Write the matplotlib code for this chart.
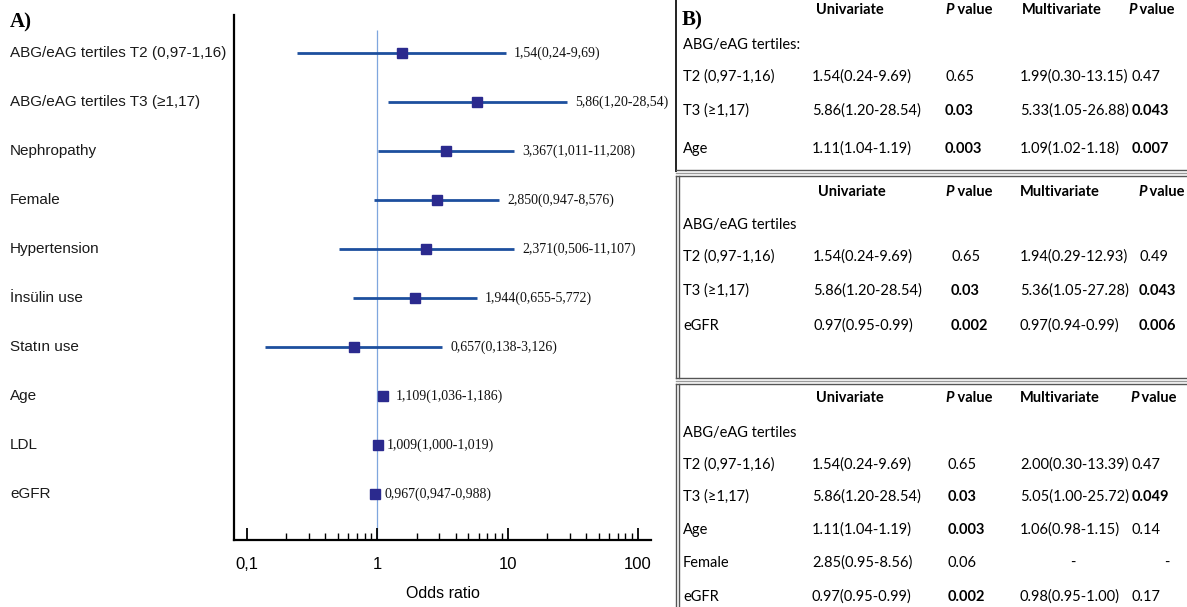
import numpy as np
import matplotlib
matplotlib.use("Agg")
import matplotlib.pyplot as plt
from matplotlib.transforms import blended_transform_factory
from matplotlib.lines import Line2D
from matplotlib.ticker import FixedLocator, NullFormatter

W, H = 1187, 607

# ---- panel A data ----
labels = ["ABG/eAG tertiles T2 (0,97-1,16)", "ABG/eAG tertiles T3 (\u22651,17)", "Nephropathy",
          "Female", "Hypertension", "\u0130ns\u00fclin use", "Stat\u0131n use", "Age", "LDL", "eGFR"]
odds = [1.54, 5.86, 3.367, 2.850, 2.371, 1.944, 0.657, 1.109, 1.009, 0.967]
lo = [0.24, 1.20, 1.011, 0.947, 0.506, 0.655, 0.138, 1.036, 1.000, 0.947]
hi = [9.69, 28.54, 11.208, 8.576, 11.107, 5.772, 3.126, 1.186, 1.019, 0.988]
ann = ["1,54(0,24-9,69)", "5,86(1,20-28,54)", "3,367(1,011-11,208)", "2,850(0,947-8,576)",
       "2,371(0,506-11,107)", "1,944(0,655-5,772)", "0,657(0,138-3,126)", "1,109(1,036-1,186)",
       "1,009(1,000-1,019)", "0,967(0,947-0,988)"]
xticks = [0.1, 1, 10, 100]
xticklabels = ["0,1", "1", "10", "100"]

# ---- panel B tables ----
hdr = ["Univariate", "Multivariate"]
t1_rows = ["T2 (0,97-1,16)", "T3 (\u22651,17)", "Age"]
t1_uni = ["1.54(0.24-9.69)", "5.86(1.20-28.54)", "1.11(1.04-1.19)"]
t1_up = ["0.65", "0.03", "0.003"]
t1_multi = ["1.99(0.30-13.15)", "5.33(1.05-26.88)", "1.09(1.02-1.18)"]
t1_mp = ["0.47", "0.043", "0.007"]

t2_rows = ["T2 (0,97-1,16)", "T3 (\u22651,17)", "eGFR"]
t2_uni = ["1.54(0.24-9.69)", "5.86(1.20-28.54)", "0.97(0.95-0.99)"]
t2_up = ["0.65", "0.03", "0.002"]
t2_multi = ["1.94(0.29-12.93)", "5.36(1.05-27.28)", "0.97(0.94-0.99)"]
t2_mp = ["0.49", "0.043", "0.006"]

t3_rows = ["T2 (0,97-1,16)", "T3 (\u22651,17)", "Age", "Female", "eGFR"]
t3_uni = ["1.54(0.24-9.69)", "5.86(1.20-28.54)", "1.11(1.04-1.19)", "2.85(0.95-8.56)", "0.97(0.95-0.99)"]
t3_up = ["0.65", "0.03", "0.003", "0.06", "0.002"]
t3_multi = ["2.00(0.30-13.39)", "5.05(1.00-25.72)", "1.06(0.98-1.15)", "-", "0.98(0.95-1.00)"]
t3_mp = ["0.47", "0.049", "0.14", "-", "0.17"]

SIG = 0.05

fig = plt.figure(figsize=(W / 100, H / 100), dpi=100)

def fx(x): return x / W
def fy(y): return 1 - y / H

narrow = ["Liberation Sans Narrow", "Liberation Sans", "DejaVu Sans"]
serif = ["Liberation Serif", "DejaVu Serif"]
tsans = ["Lato", "DejaVu Sans"]

# ---------------- panel A ----------------
ax = fig.add_axes([fx(234), fy(540), fx(651) - fx(234), fy(15) - fy(540)])
ax.set_xscale("log")
ax.set_xlim(0.0795, 126)
ax.set_ylim(-0.94, 9.78)
n = len(labels)
ypos = np.arange(n)[::-1]
line_c = "#1d4f9e"
mark_c = "#2b2a8e"
ax.vlines(1, -0.94, 9.47, color="#7fa6de", lw=0.9, zorder=1)
ax.hlines(ypos, lo, hi, color=line_c, lw=2.0, zorder=2)
ax.plot(odds, ypos, "s", color=mark_c, ms=7.5, zorder=3)
for y, h, t in zip(ypos, hi, ann):
    ax.annotate(t, (h, y), xytext=(6, 0), textcoords="offset points", va="center", ha="left",
                fontsize=10, family=serif, color="#111111")
tr = blended_transform_factory(fig.transFigure, ax.transData)
for y, lab in zip(ypos, labels):
    ax.text(fx(10), y, lab, transform=tr, va="center", ha="left", fontsize=11, family=narrow,
            color="#1a1a1a")
for s in ["top", "right"]:
    ax.spines[s].set_visible(False)
for s in ["left", "bottom"]:
    ax.spines[s].set_linewidth(1.6)
ax.set_yticks([])
ax.xaxis.set_major_locator(FixedLocator(xticks))
ax.set_xticklabels(xticklabels, family=narrow, fontsize=12)
minors = [m * d for d in [0.1, 1, 10] for m in range(2, 10)]
ax.xaxis.set_minor_locator(FixedLocator(minors))
ax.xaxis.set_minor_formatter(NullFormatter())
ax.tick_params(axis="x", which="major", direction="in", length=9, width=1.3, pad=12)
ax.tick_params(axis="x", which="minor", direction="in", length=5, width=1.0)
ax.set_xlabel("Odds ratio", family=narrow, fontsize=11.5, labelpad=10)
fig.text(fx(10), fy(22), "A)", family=serif, fontsize=15, fontweight="bold", va="center")

# ---------------- panel B ----------------
fig.text(fx(682), fy(20), "B)", family=serif, fontsize=15, fontweight="bold", va="center")

def pval_header(x, y):
    t = fig.text(fx(x), fy(y), "P", family=tsans, fontsize=10.5, fontweight="bold",
                 style="italic", va="center", ha="left")
    a = matplotlib.text.Annotation(" value", xy=(1, 0), xycoords=t, va="bottom", ha="left",
                                   family=tsans, fontsize=10.5, fontweight="bold")
    fig.add_artist(a)

def draw_table(y_head, y_group, group_lab, rows_y, rows, uni, up, multi, mp, cols, hcols):
    fig.text(fx(hcols[0]), fy(y_head), hdr[0], family=tsans, fontsize=10.5, fontweight="bold", va="center")
    pval_header(hcols[1], y_head)
    fig.text(fx(hcols[2]), fy(y_head), hdr[1], family=tsans, fontsize=10.5, fontweight="bold", va="center")
    pval_header(hcols[3], y_head)
    fig.text(fx(683), fy(y_group), group_lab, family=tsans, fontsize=10.5, va="center")
    for y, r, u, p1, m, p2 in zip(rows_y, rows, uni, up, multi, mp):
        fig.text(fx(683), fy(y), r, family=tsans, fontsize=10.5, va="center")
        fig.text(fx(cols[0]), fy(y), u, family=tsans, fontsize=10.5, va="center")
        b1 = "bold" if float(p1) < SIG else "normal"
        fig.text(fx(cols[1]), fy(y), p1, family=tsans, fontsize=10.5, va="center", fontweight=b1)
        if m == "-":
            fig.text(fx(cols[2] + 50), fy(y), m, family=tsans, fontsize=10.5, va="center")
        else:
            fig.text(fx(cols[2]), fy(y), m, family=tsans, fontsize=10.5, va="center")
        if p2 == "-":
            fig.text(fx(cols[3] + 32), fy(y), p2, family=tsans, fontsize=10.5, va="center")
        else:
            b2 = "bold" if float(p2) < SIG else "normal"
            fig.text(fx(cols[3]), fy(y), p2, family=tsans, fontsize=10.5, va="center", fontweight=b2)

draw_table(10, 45, "ABG/eAG tertiles:", [77, 111, 149], t1_rows, t1_uni, t1_up, t1_multi, t1_mp,
           [812, 945, 1020, 1132], [816, 945, 1022, 1128])
draw_table(192, 225, "ABG/eAG tertiles", [257, 291, 326], t2_rows, t2_uni, t2_up, t2_multi, t2_mp,
           [813, 951, 1020, 1139], [818, 945, 1020, 1138])
draw_table(398, 433, "ABG/eAG tertiles", [465, 497, 530, 563, 597], t3_rows, t3_uni, t3_up, t3_multi, t3_mp,
           [812, 948, 1020, 1132], [816, 945, 1020, 1130])

# box borders
def fline(x0, y0, x1, y1, c, lw):
    fig.add_artist(Line2D([fx(x0), fx(x1)], [fy(y0), fy(y1)], color=c, lw=lw,
                          transform=fig.transFigure))

fline(676, 0, 676, 171, "#222222", 1.4)
for y0 in (170, 378):
    fline(676, y0, W, y0, "#555555", 1.0)
    fline(676, y0 + 3, W, y0 + 3, "#9a9a9a", 1.0)
    fline(676, y0 + 6, W, y0 + 6, "#555555", 1.0)
for (ya, yb) in ((176, 378), (384, H)):
    fline(676, ya, 676, yb, "#555555", 1.0)
    fline(679, ya, 679, yb, "#555555", 1.0)

fig.savefig("out.png", dpi=100)
